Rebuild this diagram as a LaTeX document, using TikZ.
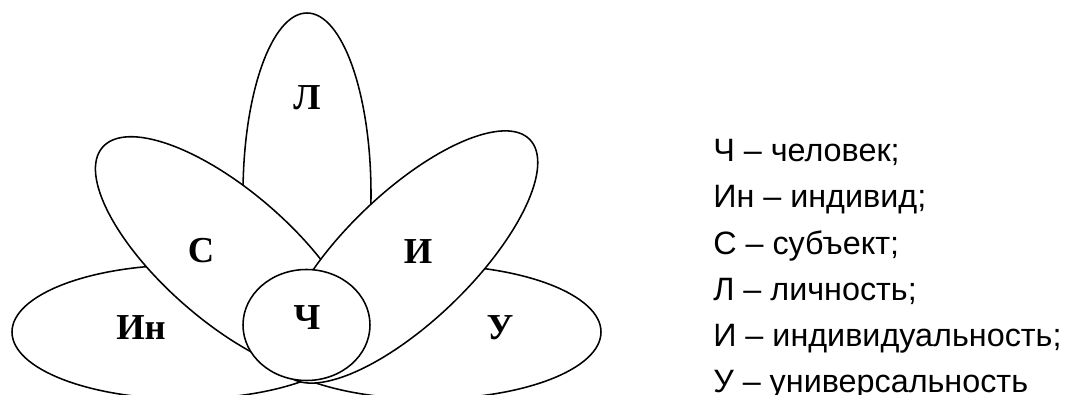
\documentclass[tikz,border=0pt]{standalone}
\usepackage{fontspec}
\setmainfont{Liberation Serif}
\newfontfamily\legendfont{Liberation Sans}

\tikzset{
  petal/.style={draw, fill=white, line width=1.1pt},
  petallabel/.style={font=\bfseries\fontsize{26}{26}\selectfont, inner sep=0pt},
  legendline/.style={font=\legendfont\fontsize{23}{23}\selectfont, inner sep=0pt, anchor=base west},
}

\begin{document}
\begin{tikzpicture}
  \useasboundingbox (0,0) rectangle (26.725,9.875);

  % centres of the petals
  \coordinate (L)  at (7.675,5.025);
  \coordinate (In) at (4.625,1.575);
  \coordinate (U)  at (10.7,1.575);
  \coordinate (S)  at (5.695,3.47);
  \coordinate (I)  at (10.2075,3.45);
  \coordinate (Ch) at (7.6625,1.75);

  % later petals hide the earlier ones
  \path[petal] (L)  ellipse [x radius=1.6, y radius=4.525];
  \path[petal] (In) ellipse [x radius=4.325, y radius=1.675];
  \path[petal] (U)  ellipse [x radius=4.325, y radius=1.675];
  \path[petal] (S)  ellipse [x radius=4.15, y radius=1.625, rotate=-41];
  \path[petal] (I)  ellipse [x radius=4.225, y radius=1.6, rotate=44];
  % the heart
  \path[petal] (Ch) ellipse [x radius=1.5875, y radius=1.3875];

  \node[petallabel] (lL)  at (7.675,7.425)  {Л};
  \node[petallabel] (lS)  at (5.025,3.6)    {С};
  \node[petallabel] (lI)  at (10.45,3.575)  {И};
  \node[petallabel] (lIn) at (3.525,1.675)  {Ин};
  \node[petallabel] (lCh) at (7.675,1.925)  {Ч};
  \node[petallabel] (lU)  at (12.5,1.675)   {У};

  % legend
  \foreach \txt [count=\i from 0] in {{Ч – человек;}, {Ин – индивид;}, {С – субъект;},
      {Л – личность;}, {И – индивидуальность;}, {У – универсальность}} {
    \node[legendline] (leg\i) at (17.825,{5.8275-1.1525*\i}) {\txt};
  }
\end{tikzpicture}
\end{document}
